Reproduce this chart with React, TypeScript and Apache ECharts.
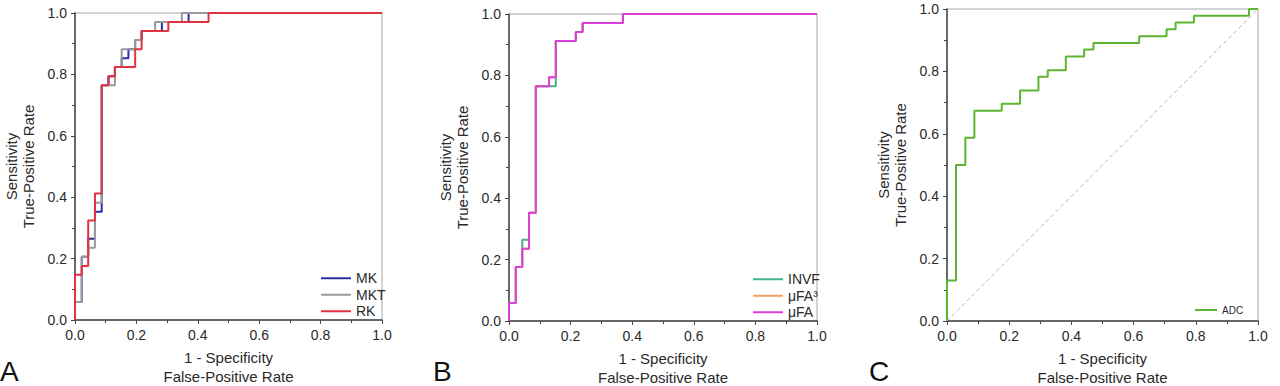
import React, { useEffect, useRef } from "react";
import * as echarts from "echarts";

// Panel A
const mkFpr = [0, 0, 0.022, 0.043, 0.065, 0.087, 0.109, 0.130, 0.152, 0.174, 0.196, 0.217, 0.283, 0.370, 1.0];
const mkTpr = [0, 0.059, 0.206, 0.265, 0.353, 0.765, 0.794, 0.824, 0.853, 0.882, 0.912, 0.941, 0.971, 1.0, 1.0];
const mktFpr = [0, 0, 0.022, 0.043, 0.065, 0.087, 0.130, 0.152, 0.196, 0.217, 0.261, 0.348, 1.0];
const mktTpr = [0, 0.059, 0.206, 0.235, 0.382, 0.765, 0.824, 0.882, 0.912, 0.941, 0.971, 1.0, 1.0];
const rkFpr = [0, 0, 0.022, 0.043, 0.065, 0.087, 0.109, 0.130, 0.196, 0.217, 0.304, 0.435, 1.0];
const rkTpr = [0, 0.147, 0.176, 0.324, 0.412, 0.765, 0.794, 0.824, 0.882, 0.941, 0.971, 1.0, 1.0];

// Panel B
const invfFpr = [0, 0, 0.022, 0.043, 0.065, 0.087, 0.152, 0.217, 0.239, 0.370, 1.0];
const invfTpr = [0, 0.059, 0.176, 0.265, 0.353, 0.765, 0.912, 0.941, 0.971, 1.0, 1.0];
const ufa3Fpr = [0, 0, 0.022, 0.043, 0.065, 0.087, 0.130, 0.152, 0.217, 0.239, 0.370, 1.0];
const ufa3Tpr = [0, 0.059, 0.176, 0.235, 0.353, 0.765, 0.794, 0.912, 0.941, 0.971, 1.0, 1.0];
const ufaFpr = [0, 0, 0.022, 0.043, 0.065, 0.087, 0.130, 0.152, 0.217, 0.239, 0.370, 1.0];
const ufaTpr = [0, 0.059, 0.176, 0.235, 0.353, 0.765, 0.794, 0.912, 0.941, 0.971, 1.0, 1.0];

// Panel C
const adcFpr = [0, 0, 0.029, 0.059, 0.088, 0.176, 0.235, 0.294, 0.324, 0.382, 0.441, 0.471, 0.618, 0.706, 0.735, 0.794, 0.971, 1.0];
const adcTpr = [0, 0.130, 0.500, 0.587, 0.674, 0.696, 0.739, 0.783, 0.804, 0.848, 0.870, 0.891, 0.913, 0.935, 0.957, 0.978, 1.0, 1.0];
const chanceLine = [0, 1];

const tickLabels = ["0.0", "0.2", "0.4", "0.6", "0.8", "1.0"];

const zip = (xs: number[], ys: number[]) => xs.map((x, i) => [x, ys[i]]);

const FONT = "'Liberation Sans', Arial, sans-serif";
const DARK = "#444";
const TEXT = "#2a2a2a";

const grids = [
  { left: 75, top: 13, width: 307, height: 307 },
  { left: 509, top: 14, width: 308, height: 307 },
  { left: 947, top: 9, width: 311, height: 312 },
];

function makeAxis(kind: "x" | "y", idx: number) {
  const isX = kind === "x";
  return {
    type: "value",
    gridIndex: idx,
    min: 0,
    max: 1,
    interval: 0.2,
    name: isX ? "1 - Specificity\nFalse-Positive Rate" : "Sensitivity\nTrue-Positive Rate",
    nameLocation: "middle",
    nameGap: isX ? 28 : 38,
    nameTextStyle: { fontFamily: FONT, fontSize: 15, color: TEXT, lineHeight: isX ? 19 : 17 },
    axisLine: { show: true, lineStyle: { color: DARK, width: 1.5 } },
    axisTick: { show: true, inside: false, length: 4, lineStyle: { color: DARK } },
    minorTick: { show: true, splitNumber: 2, length: 3, lineStyle: { color: DARK } },
    splitLine: { show: false },
    axisLabel: {
      fontFamily: FONT,
      fontSize: 14,
      color: TEXT,
      margin: 8,
      formatter: (v: number) => tickLabels[Math.round(v * 5)] ?? v.toFixed(1),
    },
  };
}

const lineSeries = (name: string, xs: number[], ys: number[], color: string, idx: number) => ({
  name,
  type: "line",
  step: "end",
  xAxisIndex: idx,
  yAxisIndex: idx,
  data: zip(xs, ys),
  symbol: "none",
  clip: false,
  color,
  lineStyle: { color, width: 2 },
});

const legendBase = {
  orient: "vertical",
  icon: "rect",
  itemWidth: 30,
  itemHeight: 2,
  itemGap: 0,
  padding: 0,
  textStyle: { fontFamily: FONT, fontSize: 14, color: TEXT, lineHeight: 16.5 },
};

const letter = (text: string, x: number) => ({
  type: "text",
  x,
  y: 371,
  style: { text, fontFamily: FONT, fontSize: 28, fill: "#111", align: "left", verticalAlign: "middle" },
});

export default function App() {
  const ref = useRef<HTMLDivElement>(null);
  useEffect(() => {
    if (!ref.current) return;
    const chart = echarts.init(ref.current, null, { renderer: "svg" });
    chart.setOption({
      animation: false,
      backgroundColor: "#fff",
      grid: grids.map((g) => ({
        ...g,
        show: true,
        containLabel: false,
        outerBoundsMode: "none",
        borderColor: "#a8a8a8",
        borderWidth: 1,
        backgroundColor: "transparent",
      })),
      xAxis: [0, 1, 2].map((i) => makeAxis("x", i)),
      yAxis: [0, 1, 2].map((i) => makeAxis("y", i)),
      legend: [
        { ...legendBase, data: ["MK", "MKT", "RK"], left: 321, top: 270 },
        { ...legendBase, data: ["INVF", "μFA³", "μFA"], left: 753, top: 271 },
        {
          ...legendBase,
          data: ["ADC"],
          left: 1195,
          top: 304,
          itemWidth: 22,
          textStyle: { fontFamily: FONT, fontSize: 10, color: TEXT, lineHeight: 12 },
        },
      ],
      series: [
        lineSeries("MK", mkFpr, mkTpr, "#2b2fa8", 0),
        lineSeries("MKT", mktFpr, mktTpr, "#9a9a9a", 0),
        lineSeries("RK", rkFpr, rkTpr, "#e0333f", 0),
        lineSeries("INVF", invfFpr, invfTpr, "#45b08f", 1),
        lineSeries("μFA³", ufa3Fpr, ufa3Tpr, "#f0a062", 1),
        lineSeries("μFA", ufaFpr, ufaTpr, "#dc3fd8", 1),
        {
          name: "Chance",
          type: "line",
          xAxisIndex: 2,
          yAxisIndex: 2,
          data: zip(chanceLine, chanceLine),
          symbol: "none",
          lineStyle: { color: "#b5b5b5", width: 1, type: [4, 3] },
          silent: true,
        },
        lineSeries("ADC", adcFpr, adcTpr, "#5cb531", 2),
      ],
      graphic: [letter("A", 0), letter("B", 433), letter("C", 869)],
    });
    return () => chart.dispose();
  }, []);
  return (
    <div
      ref={ref}
      style={{ position: "fixed", left: 0, top: 0, width: 1280, height: 386, background: "#fff" }}
    />
  );
}
